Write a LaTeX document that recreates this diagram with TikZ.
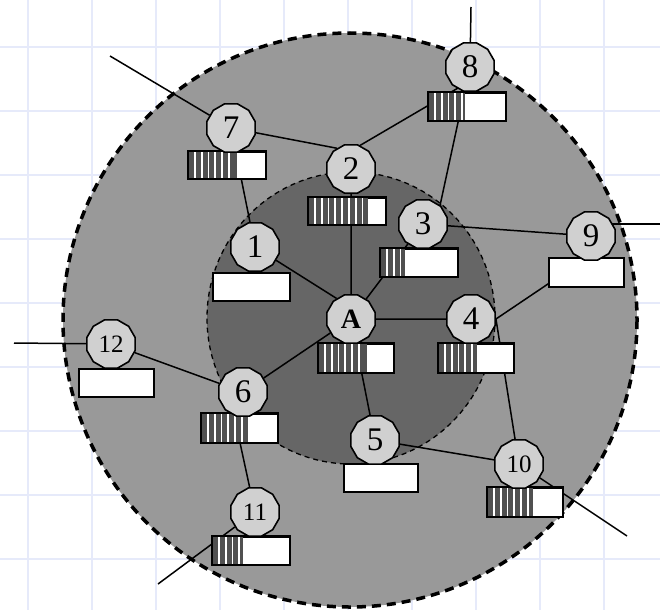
\documentclass[tikz,border=0pt]{standalone}
\usepackage{fontspec}
\setmainfont{Liberation Serif}
\usetikzlibrary{shapes.geometric,calc,backgrounds}

\definecolor{gridblue}{RGB}{230,234,250}
\definecolor{outergray}{RGB}{153,153,153}
\definecolor{innergray}{RGB}{102,102,102}
\definecolor{nodegray}{RGB}{208,208,208}
\definecolor{stripegray}{RGB}{80,80,80}

\tikzset{
  station/.style={regular polygon, regular polygon sides=12, minimum size=50pt,
    inner sep=0pt, draw=black, line width=1.6pt, fill=nodegray,
    font=\fontsize{33}{33}\selectfont},
  twodigit/.style={font=\fontsize{25}{25}\selectfont},
  hub/.style={font=\fontsize{28}{28}\selectfont\bfseries},
  link/.style={draw=black, line width=1.5pt},
  qbox/.style={draw=black, line width=1.6pt, fill=white, inner sep=0pt, anchor=north west},
  gridline/.style={draw=gridblue, line width=2pt},
}

% queue box: name, left, top, right, bottom
\newcommand\queuebox[5]{%
  \node[qbox, minimum width={(#4-#2)*1pt}, minimum height={(#5-#3)*1pt}] (#1) at (#2,#3) {};}

% occupied part of a queue: box name, left, top, end of occupied part, bottom
\newcommand\queuefill[5]{%
  \fill[stripegray] (#2,#3) rectangle (#4,#5);
  \pgfmathsetmacro\qend{#4-2}%
  \foreach \k in {1,...,10}{%
    \pgfmathsetmacro\qx{#2+6.8*\k}%
    \ifdim\qx pt<\qend pt \draw[white, line width=1.8pt] (\qx,#3) -- (\qx,#5);\fi
  }
  \draw[black, line width=1.6pt] (#1.north west) rectangle (#1.south east);}

\begin{document}
\begin{tikzpicture}[x=1pt,y=-1pt]
  \useasboundingbox (0,0) rectangle (660,610);

  % queues
  \queuebox{q7}{188}{151}{265}{178}
  \queuefill{q7}{188}{151}{237}{178}
  \queuebox{q2}{308}{197}{385}{224}
  \queuefill{q2}{308}{197}{368}{224}
  \queuebox{q8}{428}{92}{505}{120}
  \queuefill{q8}{428}{92}{465}{120}
  \queuebox{q3}{380}{248}{457}{276}
  \queuefill{q3}{380}{248}{405}{276}
  \queuebox{q1}{212}{272}{289}{300}
  \queuebox{qA}{318}{343}{393}{372}
  \queuefill{qA}{318}{343}{367}{372}
  \queuebox{q4}{438}{343}{513}{372}
  \queuefill{q4}{438}{343}{477}{372}
  \queuebox{q9}{548}{257}{623}{286}
  \queuebox{q12}{78}{368}{153}{396}
  \queuebox{q6}{201}{413}{277}{442}
  \queuefill{q6}{201}{413}{248}{442}
  \queuebox{q11}{212}{536}{289}{564}
  \queuefill{q11}{212}{536}{243}{564}
  \queuebox{q10}{487}{487}{562}{516}
  \queuefill{q10}{487}{487}{533}{516}
  \queuebox{q5}{343}{463}{417}{491}

  % stations
  \node[station] (n1) at (255,247) {1};
  \node[station] (n2) at (351,169) {2};
  \node[station] (n3) at (423,224) {3};
  \node[station] (n4) at (471,319) {4};
  \node[station] (n5) at (375,440) {5};
  \node[station] (n6) at (243,392) {6};
  \node[station] (n7) at (231,128) {7};
  \node[station] (n8) at (470,67) {8};
  \node[station] (n9) at (591,236) {9};
  \node[station, twodigit] (n10) at (519,464) {10};
  \node[station, twodigit] (n11) at (255,512) {11};
  \node[station, twodigit] (n12) at (111,344) {12};
  \node[station, hub] (nA) at (351,319) {A};

  % outgoing links
  \coordinate (e7) at (110,56);
  \coordinate (e8) at (471,7);
  \coordinate (e9) at (660,224);
  \coordinate (e10) at (627,536);
  \coordinate (e11) at (158,584);
  \coordinate (e12) at (14,343);

  \begin{scope}[on background layer]
    % grid paper
    \foreach \gx in {28,92,...,604} \draw[gridline] (\gx,0) -- (\gx,610);
    \foreach \gy in {47,111,...,559} \draw[gridline] (0,\gy) -- (660,\gy);

    % regions
    \draw[fill=outergray, line width=3.5pt, dash pattern=on 9pt off 6pt]
      (350,320) ellipse [x radius=287, y radius=287];
    \draw[fill=innergray, line width=1.3pt, dash pattern=on 5pt off 4pt]
      (351,318) ellipse [x radius=144, y radius=146];

    % links between stations
    \draw[link] (n7) -- (n2.124);
    \draw[link] (n7) -- (n1);
    \draw[link] (n2.69) -- ($(n8)+(0,14)$);
    \draw[link] (n2) -- (nA);
    \draw[link] (n8) -- ($(n3)+(13,0)$);
    \draw[link] (n3) -- (n9);
    \draw[link] (n3) -- (nA);
    \draw[link] (n1) -- (nA.125);
    \draw[link] (nA) -- (n4);
    \draw[link] (nA) -- (n6);
    \draw[link] (nA) -- (n5);
    \draw[link] (n4.east) -- ($(n9)+(0,19)$);
    \draw[link] (n4.east) -- (n10);
    \draw[link] (n5) -- (n10);
    \draw[link] (n6) -- (n12);
    \draw[link] ($(n6)+(-14,0)$) -- (n11);

    % links leaving the network
    \draw[link] (e7) -- (n7);
    \draw[link] (e8) -- (n8);
    \draw[link] (e9) -- (e9 -| n9);
    \draw[link] (e10) -- (n10);
    \draw[link] (e11) -- (n11);
    \draw[link] (e12) -- (n12);
  \end{scope}
\end{tikzpicture}
\end{document}
